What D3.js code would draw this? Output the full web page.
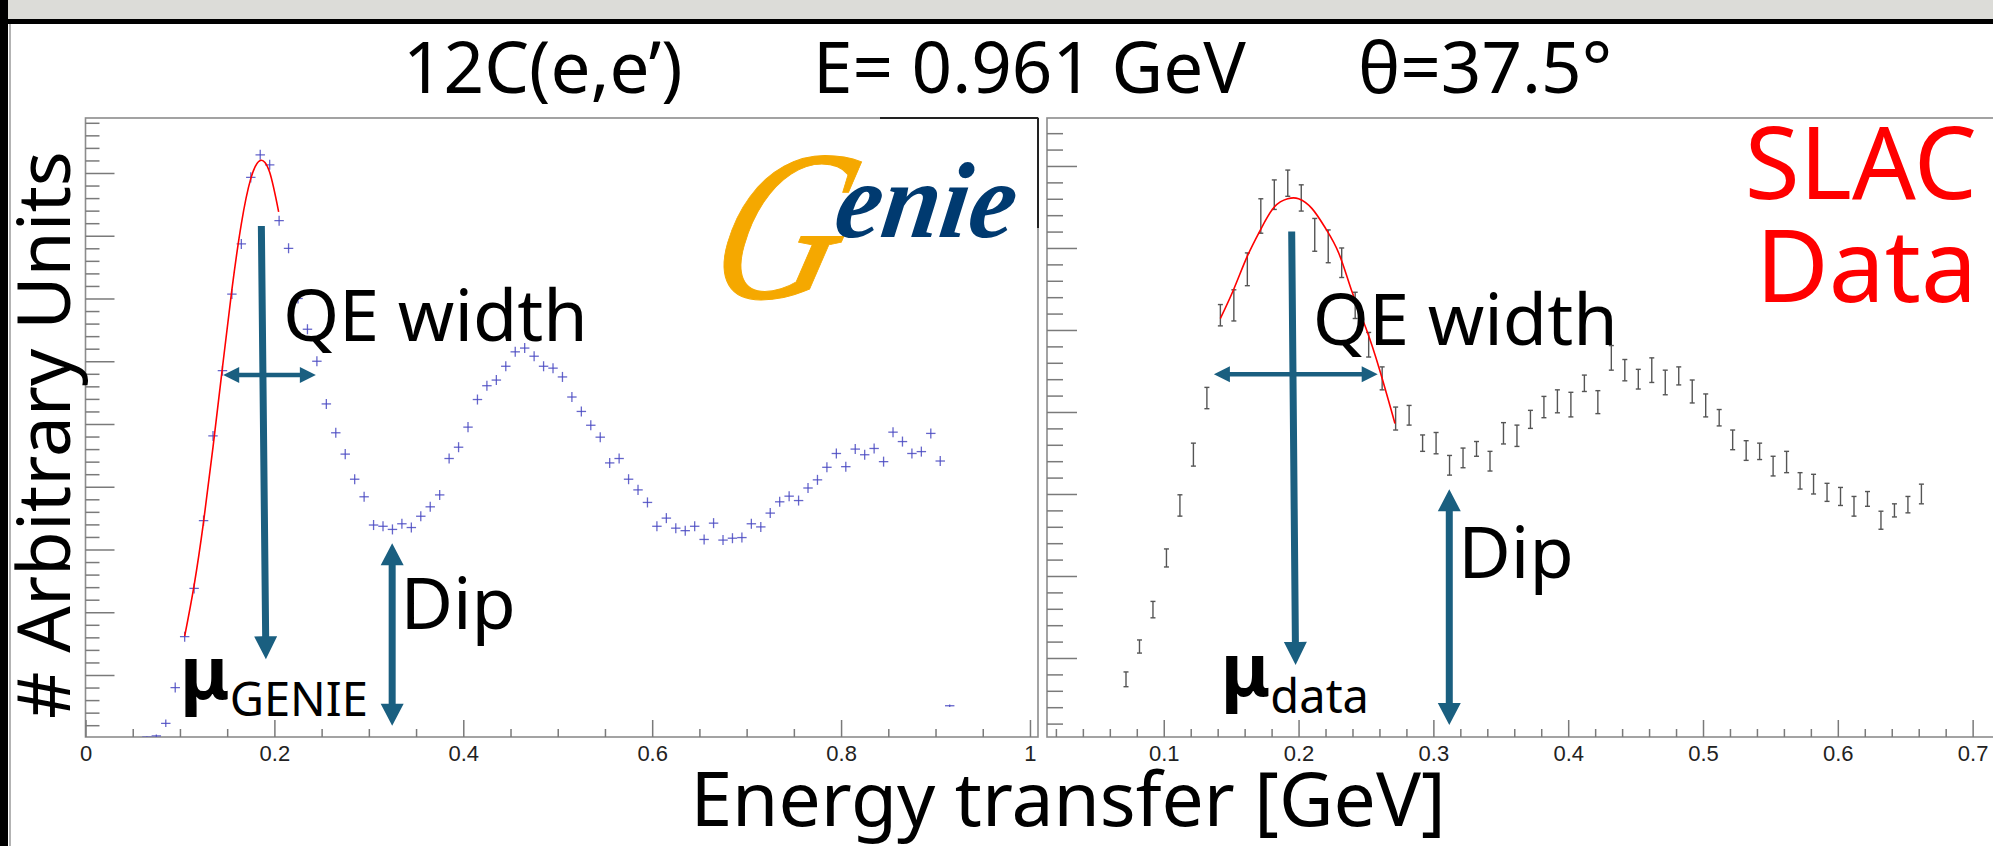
<!DOCTYPE html>
<html>
<head>
<meta charset="utf-8">
<script src="https://cdn.jsdelivr.net/npm/d3@7/dist/d3.min.js"></script>
<style>
  html, body { margin: 0; padding: 0; background: #ffffff; }
  svg { display: block; }
</style>
</head>
<body>
<svg id="chart" width="1993" height="846"></svg>
<script>
// ---------------- DATA ----------------
const titleParts = ["12C(e,e\u2019)", "E= 0.961 GeV", "\u03b8=37.5\u00b0"];
const xAxisTitle = "Energy transfer [GeV]";
const yAxisTitle = "# Arbitrary Units";

// GENIE simulation (left panel), bin centres in GeV and arbitrary units
const genieE = [0.065,0.075,0.085,0.095,0.105,0.115,0.125,0.135,0.145,0.155,0.165,0.175,0.185,0.195,0.205,0.215,0.225,0.235,0.245,0.255,0.265,0.275,0.285,0.295,0.305,0.315,0.325,0.335,0.345,0.355,0.365,0.375,0.385,0.395,0.405,0.415,0.425,0.435,0.445,0.455,0.465,0.475,0.485,0.495,0.505,0.515,0.525,0.535,0.545,0.555,0.565,0.575,0.585,0.595,0.605,0.615,0.625,0.635,0.645,0.655,0.665,0.675,0.685,0.695,0.705,0.715,0.725,0.735,0.745,0.755,0.765,0.775,0.785,0.795,0.805,0.815,0.825,0.835,0.845,0.855,0.865,0.875,0.885,0.895,0.905,0.915];
const genieY = [0.01,0.03,0.23,0.80,1.61,2.38,3.46,4.81,5.85,7.07,7.87,8.93,9.29,9.13,8.24,7.80,7.00,6.51,6.00,5.32,4.86,4.52,4.12,3.84,3.39,3.37,3.32,3.41,3.35,3.53,3.68,3.87,4.45,4.63,4.95,5.39,5.61,5.70,5.92,6.15,6.21,6.08,5.92,5.89,5.75,5.43,5.20,4.98,4.79,4.38,4.45,4.12,3.95,3.75,3.37,3.50,3.34,3.30,3.37,3.16,3.42,3.15,3.18,3.19,3.41,3.36,3.58,3.76,3.85,3.78,3.98,4.11,4.31,4.53,4.32,4.60,4.51,4.61,4.40,4.87,4.72,4.53,4.56,4.85,4.41,0.51];
const genieErr = [0.01,0.02,0.06,0.08,0.08,0.08,0.08,0.08,0.08,0.08,0.08,0.08,0.08,0.08,0.08,0.08,0.08,0.08,0.08,0.08,0.08,0.08,0.08,0.08,0.08,0.08,0.08,0.08,0.08,0.08,0.08,0.08,0.08,0.08,0.08,0.08,0.08,0.08,0.08,0.08,0.08,0.08,0.08,0.08,0.08,0.08,0.08,0.08,0.08,0.08,0.08,0.08,0.08,0.08,0.08,0.08,0.08,0.08,0.08,0.08,0.08,0.08,0.08,0.08,0.08,0.08,0.08,0.08,0.08,0.08,0.08,0.08,0.08,0.08,0.08,0.08,0.08,0.08,0.08,0.08,0.08,0.08,0.08,0.08,0.08,0.02];
const genieBinHalf = 0.005;

// Fit to the GENIE QE peak
const fitGenieE = [0.105,0.115,0.125,0.135,0.145,0.155,0.165,0.175,0.185,0.195,0.2045];
const fitGenieY = [1.62,2.43,3.44,4.63,5.90,7.14,8.19,8.91,9.20,9.01,8.38];

// SLAC data (right panel)
const slacE = [0.072,0.082,0.092,0.102,0.112,0.122,0.132,0.142,0.152,0.162,0.172,0.182,0.192,0.202,0.212,0.222,0.232,0.242,0.252,0.262,0.272,0.282,0.292,0.302,0.312,0.322,0.332,0.342,0.352,0.362,0.372,0.382,0.392,0.402,0.412,0.422,0.432,0.442,0.452,0.462,0.472,0.482,0.492,0.502,0.512,0.522,0.532,0.542,0.552,0.562,0.572,0.582,0.592,0.602,0.612,0.622,0.632,0.642,0.652,0.662];
const slacY = [0.74,1.14,1.59,2.22,2.86,3.48,4.17,5.18,5.30,5.74,6.39,6.65,6.79,6.61,6.16,6.02,5.82,5.30,4.82,4.41,3.92,3.96,3.62,3.62,3.35,3.44,3.55,3.40,3.74,3.71,3.91,4.06,4.13,4.09,4.35,4.12,4.66,4.51,4.40,4.51,4.36,4.44,4.25,4.08,3.93,3.66,3.53,3.52,3.34,3.39,3.16,3.12,3.02,2.97,2.85,2.94,2.68,2.80,2.87,3.00];
const slacErr = [0.09,0.08,0.10,0.11,0.13,0.14,0.13,0.13,0.19,0.20,0.21,0.18,0.16,0.16,0.20,0.20,0.18,0.16,0.15,0.14,0.14,0.12,0.10,0.13,0.12,0.12,0.09,0.12,0.13,0.13,0.11,0.13,0.14,0.15,0.10,0.14,0.15,0.13,0.12,0.15,0.15,0.11,0.14,0.14,0.10,0.12,0.12,0.10,0.12,0.13,0.10,0.12,0.11,0.11,0.12,0.09,0.11,0.08,0.10,0.12];

// Fit to the data QE peak
const fitDataE = [0.142,0.152,0.162,0.172,0.182,0.192,0.200,0.210,0.220,0.230,0.240,0.250,0.260,0.2715];
const fitDataY = [5.14,5.50,5.90,6.23,6.50,6.60,6.60,6.48,6.24,5.93,5.45,5.02,4.52,3.86];

// Axis ticks
const leftXMajor = [0,0.2,0.4,0.6,0.8,1];
const rightXMajor = [0.1,0.2,0.3,0.4,0.5,0.6,0.7];

// Annotations (data coordinates)
const annLeft = {
  muArrow: [[0.1862,8.155],[0.191,1.25]],
  widthArrow: [[0.1458,5.78],[0.2439,5.78]],
  dipArrow: [[0.3247,3.10],[0.3247,0.19]],
  widthText: [0.209,6.33],
  dipText: [0.3335,1.74],
  muText: [0.100,0.34],
  muSub: "GENIE"
};
const annRight = {
  muArrow: [[0.1949,6.20],[0.1978,0.915]],
  widthArrow: [[0.1372,4.46],[0.2587,4.46]],
  dipArrow: [[0.3118,3.057],[0.3118,0.183]],
  widthText: [0.2105,4.82],
  dipText: [0.3185,1.97],
  muText: [0.1422,0.33],
  muSub: "data",
  slac: [[0.7033,6.594,"SLAC"],[0.7033,5.345,"Data"]]
};

// ---------------- DRAWING ----------------
const svg = d3.select("#chart");
const W = 1993, H = 846;
const FONT = "'Noto Sans', 'Open Sans', sans-serif";
const TICKFONT = "'Liberation Sans', Arial, sans-serif";
const ARROW = "#1a5f80";
const FRAME = "#8c8c8c";

svg.append("rect").attr("x",0).attr("y",0).attr("width",W).attr("height",H).attr("fill","#fff");
// window chrome
svg.append("rect").attr("x",0).attr("y",0).attr("width",W).attr("height",19).attr("fill","#dcdcd8");
svg.append("rect").attr("x",0).attr("y",19).attr("width",W).attr("height",5).attr("fill","#000");
svg.append("rect").attr("x",0).attr("y",0).attr("width",8).attr("height",H).attr("fill","#000");
svg.append("line").attr("x1",10).attr("x2",10).attr("y1",24).attr("y2",H).attr("stroke","#9a9a9a").attr("stroke-width",1.5);

// scales
const yTop = 118, yBot = 737;
const xL = d3.scaleLinear().domain([0,1.0085]).range([85.5,1038]);
const yL = d3.scaleLinear().domain([0,9.87]).range([737.75,118.4]);
const xR = d3.scaleLinear().domain([0.0134,0.7203]).range([1047,2000]);
const yR = d3.scaleLinear().domain([0,7.585]).range([740,118]);

function frame(x0,x1){
  svg.append("rect").attr("x",x0).attr("y",yTop).attr("width",x1-x0).attr("height",yBot-yTop)
    .attr("fill","none").attr("stroke",FRAME).attr("stroke-width",1.6);
}
frame(xL.range()[0], xL.range()[1]);
frame(xR.range()[0], xR.range()[1]);
// darker frame fragments seen in the picture
svg.append("line").attr("x1",880).attr("x2",1038).attr("y1",yTop).attr("y2",yTop).attr("stroke","#222").attr("stroke-width",2);
svg.append("line").attr("x1",1038).attr("x2",1038).attr("y1",yTop).attr("y2",228).attr("stroke","#222").attr("stroke-width",2);

function styleAxis(g){
  g.select(".domain").remove();
  g.selectAll(".tick line").attr("stroke","#7a7a7a").attr("stroke-width",1.5);
  g.selectAll(".tick text").attr("font-family",TICKFONT).attr("font-size",22).attr("fill","#222");
}
function yAxes(x0, ys, maxV, majLen, minLen){
  const major = d3.range(1, Math.floor(maxV)+0.001, 1);
  const minor = d3.range(0.2, maxV, 0.2).filter(v => Math.abs(v-Math.round(v))>1e-6);
  const g1 = svg.append("g").attr("transform",`translate(${x0},0)`)
    .call(d3.axisLeft(ys).tickValues(major).tickSize(-majLen).tickFormat(""));
  styleAxis(g1);
  const g2 = svg.append("g").attr("transform",`translate(${x0},0)`)
    .call(d3.axisLeft(ys).tickValues(minor).tickSize(-minLen).tickFormat(""));
  styleAxis(g2);
}
function xAxes(xs, major, minor){
  const g1 = svg.append("g").attr("transform",`translate(0,${yBot})`)
    .call(d3.axisBottom(xs).tickValues(major).tickSize(-17).tickPadding(8).tickFormat(d3.format("~g")));
  styleAxis(g1);
  g1.selectAll(".tick text").attr("y",8);
  const g2 = svg.append("g").attr("transform",`translate(0,${yBot})`)
    .call(d3.axisBottom(xs).tickValues(minor).tickSize(-8).tickFormat(""));
  styleAxis(g2);
}
yAxes(xL.range()[0], yL, 9.87, 29, 14);
yAxes(xR.range()[0], yR, 7.585, 30, 16);
xAxes(xL, leftXMajor, d3.range(0.05,1.0,0.05).filter(v=>Math.abs(v*5-Math.round(v*5))>1e-6));
xAxes(xR, rightXMajor, d3.range(0.02,0.72,0.02).filter(v=>Math.abs(v*10-Math.round(v*10))>1e-6));

// clip paths
const defs = svg.append("defs");
defs.append("clipPath").attr("id","clipL").append("rect")
  .attr("x",xL.range()[0]).attr("y",yTop).attr("width",xL.range()[1]-xL.range()[0]).attr("height",yBot-yTop);
defs.append("clipPath").attr("id","clipR").append("rect")
  .attr("x",xR.range()[0]).attr("y",yTop).attr("width",W-xR.range()[0]).attr("height",yBot-yTop);

// GENIE crosses
const gL = svg.append("g").attr("clip-path","url(#clipL)");
const genie = genieE.map((e,i)=>({e, y:genieY[i], err:genieErr[i]}));
const cross = gL.selectAll("g.cross").data(genie).enter().append("g").attr("class","cross")
  .attr("stroke","#4a4ac2").attr("stroke-width",1.3).attr("stroke-opacity",0.85);
cross.append("line").attr("x1",d=>xL(d.e-genieBinHalf)).attr("x2",d=>xL(d.e+genieBinHalf))
  .attr("y1",d=>yL(d.y)).attr("y2",d=>yL(d.y));
cross.append("line").attr("x1",d=>xL(d.e)).attr("x2",d=>xL(d.e))
  .attr("y1",d=>yL(d.y+d.err)).attr("y2",d=>yL(d.y-d.err));

// GENIE fit
const lineL = d3.line().x(d=>xL(d[0])).y(d=>yL(d[1])).curve(d3.curveNatural);
gL.append("path").datum(fitGenieE.map((e,i)=>[e,fitGenieY[i]]))
  .attr("d",lineL).attr("fill","none").attr("stroke","#ff0000").attr("stroke-width",1.6);

// SLAC error bars
const gR = svg.append("g").attr("clip-path","url(#clipR)");
const slac = slacE.map((e,i)=>({e, y:slacY[i], err:slacErr[i]}));
const eb = gR.selectAll("g.eb").data(slac).enter().append("g").attr("class","eb")
  .attr("stroke","#555").attr("stroke-width",1.4);
eb.append("line").attr("x1",d=>xR(d.e)).attr("x2",d=>xR(d.e))
  .attr("y1",d=>yR(d.y+d.err)).attr("y2",d=>yR(d.y-d.err));
eb.append("line").attr("x1",d=>xR(d.e)-2.5).attr("x2",d=>xR(d.e)+2.5)
  .attr("y1",d=>yR(d.y+d.err)).attr("y2",d=>yR(d.y+d.err));
eb.append("line").attr("x1",d=>xR(d.e)-2.5).attr("x2",d=>xR(d.e)+2.5)
  .attr("y1",d=>yR(d.y-d.err)).attr("y2",d=>yR(d.y-d.err));

const lineR = d3.line().x(d=>xR(d[0])).y(d=>yR(d[1])).curve(d3.curveNatural);
gR.append("path").datum(fitDataE.map((e,i)=>[e,fitDataY[i]]))
  .attr("d",lineR).attr("fill","none").attr("stroke","#ff0000").attr("stroke-width",1.6);

// arrows
function arrow(x1,y1,x2,y2,w,hl,hw,both){
  const dx=x2-x1, dy=y2-y1, L=Math.hypot(dx,dy);
  const ux=dx/L, uy=dy/L, nx=-uy, ny=ux;
  const P=(t,s)=>[x1+ux*t+nx*s, y1+uy*t+ny*s];
  let pts;
  if(both){
    pts=[P(hl,w/2),P(L-hl,w/2),P(L-hl,hw/2),P(L,0),P(L-hl,-hw/2),P(L-hl,-w/2),P(hl,-w/2),P(hl,-hw/2),P(0,0),P(hl,hw/2)];
  } else {
    pts=[P(0,w/2),P(L-hl,w/2),P(L-hl,hw/2),P(L,0),P(L-hl,-hw/2),P(L-hl,-w/2),P(0,-w/2)];
  }
  svg.append("path").attr("d","M"+pts.map(p=>p.join(",")).join("L")+"Z").attr("fill",ARROW);
}
function annotate(a, xs, ys){
  const m=a.muArrow, w=a.widthArrow, d=a.dipArrow;
  arrow(xs(m[0][0]),ys(m[0][1]),xs(m[1][0]),ys(m[1][1]),7,23,23,false);
  arrow(xs(w[0][0]),ys(w[0][1]),xs(w[1][0]),ys(w[1][1]),4.5,16,16,true);
  arrow(xs(d[0][0]),ys(d[0][1]),xs(d[1][0]),ys(d[1][1]),7,22,23,true);
  svg.append("text").attr("x",xs(a.widthText[0])).attr("y",ys(a.widthText[1]))
    .attr("font-family",FONT).attr("font-size",72).attr("fill","#000").text("QE width");
  svg.append("text").attr("x",xs(a.dipText[0])).attr("y",ys(a.dipText[1]))
    .attr("font-family",FONT).attr("font-size",72).attr("fill","#000").text("Dip");
  const t = svg.append("text").attr("x",xs(a.muText[0])).attr("y",ys(a.muText[1])-17)
    .attr("font-family",FONT).attr("fill","#000");
  t.append("tspan").attr("font-size",74).attr("font-weight","bold").text("\u03bc");
  t.append("tspan").attr("font-size",47).attr("dy",17).text(a.muSub);
}
annotate(annLeft, xL, yL);
annotate(annRight, xR, yR);

// SLAC Data label
annRight.slac.forEach(s=>{
  svg.append("text").attr("x",xR(s[0])).attr("y",yR(s[1])).attr("text-anchor","end")
    .attr("font-family",FONT).attr("font-size",100).attr("fill","#ff0000").text(s[2]);
});

// Genie logo (script-like lettering)
const logo = svg.append("g");
logo.append("text").attr("x",0).attr("y",0)
  .attr("transform","translate(702,298) skewX(-16)")
  .attr("font-family","'Liberation Serif', 'DejaVu Serif', serif").attr("font-style","italic")
  .attr("font-size",215).attr("fill","#f5a800").attr("stroke","#f5a800").attr("stroke-width",1)
  .attr("textLength",128).attr("lengthAdjust","spacingAndGlyphs").text("G");
logo.append("text").attr("x",0).attr("y",0)
  .attr("transform","translate(832,237) skewX(-8)")
  .attr("font-family","'Liberation Serif', 'DejaVu Serif', serif").attr("font-style","italic").attr("font-weight","bold")
  .attr("font-size",108).attr("fill","#003a70").attr("textLength",180).attr("lengthAdjust","spacingAndGlyphs").text("enie");

// Title
const titleX = [403, 813, 1358];
titleParts.forEach((s,i)=>{
  svg.append("text").attr("x",titleX[i]).attr("y",93).attr("font-family",FONT)
    .attr("font-size",71).attr("fill","#000").text(s);
});

// axis titles
svg.append("text").attr("x",1068).attr("y",826).attr("text-anchor","middle")
  .attr("font-family",FONT).attr("font-size",75).attr("fill","#000").text(xAxisTitle);
svg.append("text").attr("transform","translate(70,435) rotate(-90)").attr("text-anchor","middle")
  .attr("font-family",FONT).attr("font-size",73).attr("fill","#000").text(yAxisTitle);
</script>
</body>
</html>
